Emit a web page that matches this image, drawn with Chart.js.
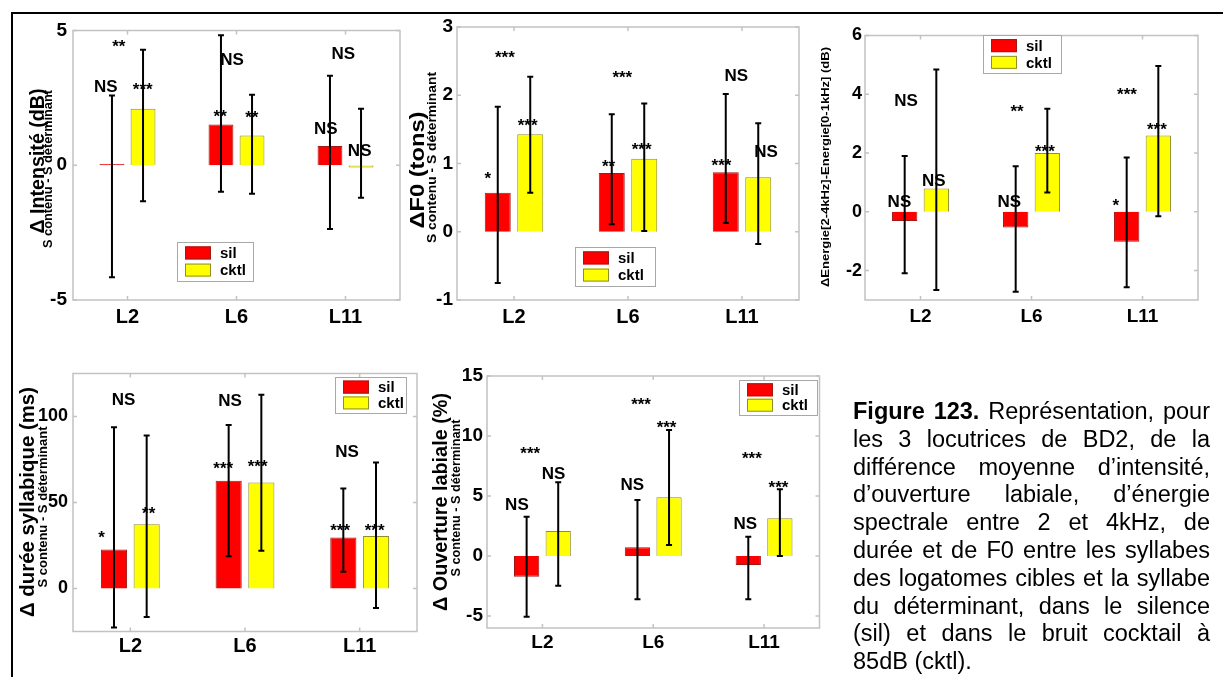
<!DOCTYPE html>
<html>
<head>
<meta charset="utf-8">
<title>Figure 123</title>
<script src="https://cdn.jsdelivr.net/npm/chart.js@4.4.1/dist/chart.umd.min.js"></script>
<style>
html, body { margin: 0; padding: 0; background: #fff; }
#page { position: relative; width: 1223px; height: 677px; overflow: hidden; background: #fff;
        font-family: "Liberation Sans", Arial, Helvetica, sans-serif; }
#page canvas { position: absolute; left: 0; top: 0; }
#frame { position: absolute; left: 11px; top: 12px; right: -4px; bottom: -4px;
         border-top: 2px solid #000; border-left: 2px solid #000; }
#caption { position: absolute; left: 853px; top: 398px; width: 357px;
           font-size: 23.5px; line-height: 27.8px; color: #000; }
#caption div { text-align: justify; text-align-last: justify; }
#caption div.last { text-align-last: left; }
</style>
</head>
<body>
<div id="page">
  <div id="frame"></div>
  <canvas id="cInt" width="1223" height="677"></canvas>
  <canvas id="cF0" width="1223" height="677"></canvas>
  <canvas id="cEn" width="1223" height="677"></canvas>
  <canvas id="cDur" width="1223" height="677"></canvas>
  <canvas id="cOuv" width="1223" height="677"></canvas>
  <div id="caption">
    <div><b>Figure 123.</b> Représentation, pour</div>
    <div>les 3 locutrices de BD2, de la</div>
    <div>différence moyenne d’intensité,</div>
    <div>d’ouverture labiale, d’énergie</div>
    <div>spectrale entre 2 et 4kHz, de</div>
    <div>durée et de F0 entre les syllabes</div>
    <div>des logatomes cibles et la syllabe</div>
    <div>du déterminant, dans le silence</div>
    <div>(sil) et dans le bruit cocktail à</div>
    <div class="last">85dB (cktl).</div>
  </div>
</div>
<script>
// Speakers (locutrices)
const speakers = ['L2', 'L6', 'L11'];
const seriesNames = ['sil', 'cktl'];

// Δ intensité (dB): means and error-bar ends
const intSil = [0.05, 1.51, 0.71];
const intCktl = [2.10, 1.10, -0.08];
const intSilLo = [-4.16, -0.98, -2.37];
const intSilHi = [2.59, 4.82, 3.32];
const intCktlLo = [-1.34, -1.06, -1.21];
const intCktlHi = [4.29, 2.62, 2.10];
const intTicks = [-5, 0, 5];
// significance marks: [text, speaker index, offset in category units, value]
const intSig = [
  ['**', 0, -0.08, 4.52], ['NS', 0, -0.20, 2.93], ['***', 0, 0.14, 2.93],
  ['NS', 1, -0.04, 3.93], ['**', 1, -0.15, 1.92], ['**', 1, 0.14, 1.88],
  ['NS', 2, -0.02, 4.15], ['NS', 2, -0.18, 1.40], ['NS', 2, 0.13, 0.55]
];

// ΔF0 (tons)
const f0Sil = [0.57, 0.86, 0.87];
const f0Cktl = [1.43, 1.07, 0.80];
const f0SilLo = [-0.75, 0.11, 0.13];
const f0SilHi = [1.83, 1.72, 2.02];
const f0CktlLo = [0.57, 0.01, -0.18];
const f0CktlHi = [2.27, 1.88, 1.59];
const f0Ticks = [-1, 0, 1, 2, 3];
const f0Sig = [
  ['*', 0, -0.23, 0.83], ['***', 0, -0.08, 2.60], ['***', 0, 0.12, 1.60],
  ['**', 1, -0.17, 1.00], ['***', 1, -0.05, 2.31], ['***', 1, 0.12, 1.25],
  ['NS', 2, -0.05, 2.29], ['***', 2, -0.18, 1.02], ['NS', 2, 0.21, 1.18]
];

// ΔEnergie[2-4kHz]-Energie[0-1kHz] (dB)
const enSil = [-0.31, -0.53, -1.02];
const enCktl = [0.79, 2.00, 2.60];
const enSilLo = [-2.09, -2.72, -2.57];
const enSilHi = [1.90, 1.55, 1.85];
const enCktlLo = [-2.66, 0.66, -0.15];
const enCktlHi = [4.84, 3.51, 4.96];
const enTicks = [-2, 0, 2, 4, 6];
const enSig = [
  ['NS', 0, -0.13, 3.80], ['NS', 0, -0.19, 0.37], ['NS', 0, 0.12, 1.08],
  ['**', 1, -0.13, 3.52], ['NS', 1, -0.20, 0.37], ['***', 1, 0.12, 2.15],
  ['***', 2, -0.14, 4.11], ['*', 2, -0.24, 0.33], ['***', 2, 0.13, 2.91]
];

// Δ durée syllabique (ms)
const durSil = [22.7, 62.7, 29.7];
const durCktl = [37.3, 61.7, 30.5];
const durSilLo = [-22.7, 18.8, 9.7];
const durSilHi = [93.8, 95.1, 58.2];
const durCktlLo = [-16.5, 21.9, -11.3];
const durCktlHi = [88.9, 112.6, 73.2];
const durTicks = [0, 50, 100];
const durSig = [
  ['NS', 0, -0.06, 110], ['*', 0, -0.25, 31.4], ['**', 0, 0.16, 45.6],
  ['NS', 1, -0.13, 109.7], ['***', 1, -0.19, 71.8], ['***', 1, 0.11, 72.8],
  ['NS', 2, -0.11, 80], ['***', 2, -0.17, 35.5], ['***', 2, 0.13, 35.5]
];

// Δ ouverture labiale (%)
const ouvSil = [-1.72, 0.72, -0.75];
const ouvCktl = [2.08, 4.89, 3.14];
const ouvSilLo = [-5.06, -3.61, -3.61];
const ouvSilHi = [3.28, 4.67, 1.61];
const ouvCktlLo = [-2.47, 0.92, 0.00];
const ouvCktlHi = [6.14, 10.50, 5.56];
const ouvTicks = [-5, 0, 5, 10, 15];
const ouvSig = [
  ['***', 0, -0.11, 8.83], ['NS', 0, -0.23, 4.30], ['NS', 0, 0.10, 6.94],
  ['***', 1, -0.11, 12.86], ['NS', 1, -0.19, 6.00], ['***', 1, 0.12, 10.97],
  ['***', 2, -0.11, 8.36], ['NS', 2, -0.17, 2.78], ['***', 2, 0.13, 5.92]
];

const FONT = '"Liberation Sans", Arial, Helvetica, sans-serif';
const W = 1223, H = 677, YW = 60, XH = 40;
const RED = '#ff0000', YELLOW = '#ffff00';
const RED_EDGE = '#a01818', YELLOW_EDGE = '#8f8f2c';

function overlayPlugin(spec) {
  return {
    id: 'overlay',
    beforeDatasetsDraw(chart) {
      // light grey box around the axes with inward tick marks
      const { ctx, chartArea: a, scales: { x, y } } = chart;
      ctx.save();
      ctx.strokeStyle = '#c2c2c2';
      ctx.lineWidth = 1.5;
      ctx.strokeRect(a.left, a.top, a.right - a.left, a.bottom - a.top);
      ctx.beginPath();
      const tl = 4;
      y.ticks.forEach(t => {
        const py = y.getPixelForValue(t.value);
        ctx.moveTo(a.left, py); ctx.lineTo(a.left + tl, py);
        ctx.moveTo(a.right, py); ctx.lineTo(a.right - tl, py);
      });
      x.ticks.forEach((t, i) => {
        const px = x.getPixelForTick(i);
        ctx.moveTo(px, a.top); ctx.lineTo(px, a.top + tl);
        ctx.moveTo(px, a.bottom); ctx.lineTo(px, a.bottom - tl);
      });
      ctx.stroke();
      ctx.restore();
    },
    afterDatasetsDraw(chart) {
      const { ctx, scales: { x, y } } = chart;
      ctx.save();
      // error bars
      ctx.strokeStyle = '#000';
      ctx.lineWidth = 2;
      chart.data.datasets.forEach((ds, di) => {
        chart.getDatasetMeta(di).data.forEach((bar, i) => {
          const bx = bar.x;
          const y1 = y.getPixelForValue(ds.errLow[i]);
          const y2 = y.getPixelForValue(ds.errHigh[i]);
          ctx.beginPath();
          ctx.moveTo(bx, y1); ctx.lineTo(bx, y2);
          ctx.moveTo(bx - 3, y1); ctx.lineTo(bx + 3, y1);
          ctx.moveTo(bx - 3, y2); ctx.lineTo(bx + 3, y2);
          ctx.stroke();
        });
      });
      // significance marks
      const step = x.getPixelForValue(1) - x.getPixelForValue(0);
      ctx.fillStyle = '#000';
      ctx.font = 'bold 17px ' + FONT;
      ctx.textAlign = 'center';
      ctx.textBaseline = 'alphabetic';
      spec.sig.forEach(([txt, ci, dx, v]) => {
        const px = x.getPixelForValue(ci) + dx * step;
        const py = y.getPixelForValue(v);
        const m = ctx.measureText(txt);
        ctx.fillText(txt, px, py + (m.actualBoundingBoxAscent - m.actualBoundingBoxDescent) / 2);
      });
      ctx.restore();
    },
    afterDraw(chart) {
      const { ctx } = chart;
      ctx.save();
      // legend box
      const L = spec.legend;
      ctx.fillStyle = '#fff';
      ctx.fillRect(L.x, L.y, L.w, L.h);
      ctx.strokeStyle = '#a8a8a8';
      ctx.lineWidth = 1;
      ctx.strokeRect(L.x + 0.5, L.y + 0.5, L.w, L.h);
      const rows = [L.y + L.h * 0.28, L.y + L.h * 0.72];
      const fills = [RED, YELLOW], edges = [RED_EDGE, YELLOW_EDGE];
      ctx.font = 'bold 15px ' + FONT;
      ctx.textBaseline = 'middle';
      ctx.textAlign = 'left';
      seriesNames.forEach((name, i) => {
        ctx.fillStyle = fills[i];
        ctx.fillRect(L.x + 8, rows[i] - 6.5, 26, 13);
        ctx.strokeStyle = edges[i];
        ctx.strokeRect(L.x + 8.5, rows[i] - 6, 25, 12);
        ctx.fillStyle = '#000';
        ctx.fillText(name, L.x + 43, rows[i] + 1);
      });
      // rotated axis titles
      spec.titles.forEach(t => {
        ctx.save();
        ctx.font = 'bold ' + t.size + 'px ' + FONT;
        const mw = ctx.measureText(t.text).width;
        ctx.translate(t.x, t.y);
        ctx.rotate(-Math.PI / 2);
        ctx.scale(t.len / mw, 1);
        ctx.textAlign = 'center';
        ctx.textBaseline = 'middle';
        ctx.fillStyle = '#000';
        ctx.fillText(t.text, 0, 0);
        ctx.restore();
      });
      ctx.restore();
    }
  };
}

function makeChart(id, spec) {
  const a = spec.area;
  new Chart(document.getElementById(id), {
    type: 'bar',
    data: {
      labels: speakers,
      datasets: [
        { label: seriesNames[0], data: spec.sil, errLow: spec.silLo, errHigh: spec.silHi,
          backgroundColor: RED, borderColor: RED_EDGE, borderWidth: 1,
          categoryPercentage: 0.57, barPercentage: 0.8 },
        { label: seriesNames[1], data: spec.cktl, errLow: spec.cktlLo, errHigh: spec.cktlHi,
          backgroundColor: YELLOW, borderColor: YELLOW_EDGE, borderWidth: 1,
          categoryPercentage: 0.57, barPercentage: 0.8 }
      ]
    },
    options: {
      responsive: false,
      animation: false,
      devicePixelRatio: 1,
      events: [],
      layout: { padding: { left: a.left - YW, top: a.top, right: W - a.right, bottom: H - a.bottom - XH } },
      plugins: { legend: { display: false }, tooltip: { enabled: false } },
      scales: {
        x: {
          grid: { display: false, drawTicks: false },
          border: { display: false },
          ticks: { color: '#000', font: { family: FONT, size: spec.xFont, weight: 'bold' }, padding: spec.xPad },
          afterFit: s => { s.height = XH; }
        },
        y: {
          min: spec.min, max: spec.max,
          grid: { display: false, drawTicks: false },
          border: { display: false },
          ticks: { color: '#000', font: { family: FONT, size: spec.yFont, weight: 'bold' }, padding: spec.yPad },
          afterBuildTicks: s => { s.ticks = spec.ticks.map(v => ({ value: v })); },
          afterFit: s => { s.width = YW; }
        }
      }
    },
    plugins: [overlayPlugin(spec)]
  });
}

makeChart('cInt', {
  area: { left: 73, top: 30.5, right: 400, bottom: 300 },
  min: -5, max: 5, ticks: intTicks,
  sil: intSil, cktl: intCktl, silLo: intSilLo, silHi: intSilHi, cktlLo: intCktlLo, cktlHi: intCktlHi,
  sig: intSig, xFont: 20, yFont: 19, xPad: 5, yPad: 6,
  legend: { x: 177, y: 242, w: 76, h: 39 },
  titles: [
    { text: 'Δ Intensité (dB)', x: 38, y: 161, len: 145, size: 20 },
    { text: 'S contenu - S déterminant', x: 48.5, y: 169, len: 158, size: 13 }
  ]
});

makeChart('cF0', {
  area: { left: 457, top: 27, right: 799, bottom: 300 },
  min: -1, max: 3, ticks: f0Ticks,
  sil: f0Sil, cktl: f0Cktl, silLo: f0SilLo, silHi: f0SilHi, cktlLo: f0CktlLo, cktlHi: f0CktlHi,
  sig: f0Sig, xFont: 20, yFont: 19, xPad: 5, yPad: 4,
  legend: { x: 575, y: 247, w: 80, h: 39 },
  titles: [
    { text: 'ΔF0 (tons)', x: 418, y: 170, len: 117, size: 21 },
    { text: 'S contenu - S déterminant', x: 432, y: 157.5, len: 171, size: 13 }
  ]
});

makeChart('cEn', {
  area: { left: 865, top: 35.5, right: 1198, bottom: 300 },
  min: -3, max: 6, ticks: enTicks,
  sil: enSil, cktl: enCktl, silLo: enSilLo, silHi: enSilHi, cktlLo: enCktlLo, cktlHi: enCktlHi,
  sig: enSig, xFont: 19, yFont: 18, xPad: 5, yPad: 3,
  legend: { x: 983, y: 35, w: 78, h: 38 },
  titles: [
    { text: 'ΔEnergie[2-4kHz]-Energie[0-1kHz] (dB)', x: 826, y: 167, len: 240, size: 11 }
  ]
});

makeChart('cDur', {
  area: { left: 73, top: 373.5, right: 417, bottom: 631.5 },
  min: -25, max: 125, ticks: durTicks,
  sil: durSil, cktl: durCktl, silLo: durSilLo, silHi: durSilHi, cktlLo: durCktlLo, cktlHi: durCktlHi,
  sig: durSig, xFont: 20, yFont: 18, xPad: 3, yPad: 5,
  legend: { x: 335, y: 377, w: 71, h: 36 },
  titles: [
    { text: 'Δ durée syllabique (ms)', x: 28.5, y: 502, len: 230, size: 20 },
    { text: 'S contenu - S déterminant', x: 43.5, y: 507, len: 161, size: 13 }
  ]
});

makeChart('cOuv', {
  area: { left: 487, top: 376, right: 819.5, bottom: 628 },
  min: -6, max: 15, ticks: ouvTicks,
  sil: ouvSil, cktl: ouvCktl, silLo: ouvSilLo, silHi: ouvSilHi, cktlLo: ouvCktlLo, cktlHi: ouvCktlHi,
  sig: ouvSig, xFont: 19, yFont: 19, xPad: 3, yPad: 4,
  legend: { x: 739, y: 380, w: 78, h: 35 },
  titles: [
    { text: 'Δ Ouverture labiale (%)', x: 441, y: 502, len: 218, size: 20 },
    { text: 'S contenu - S déterminant', x: 456, y: 498, len: 157, size: 13 }
  ]
});
</script>
</body>
</html>
